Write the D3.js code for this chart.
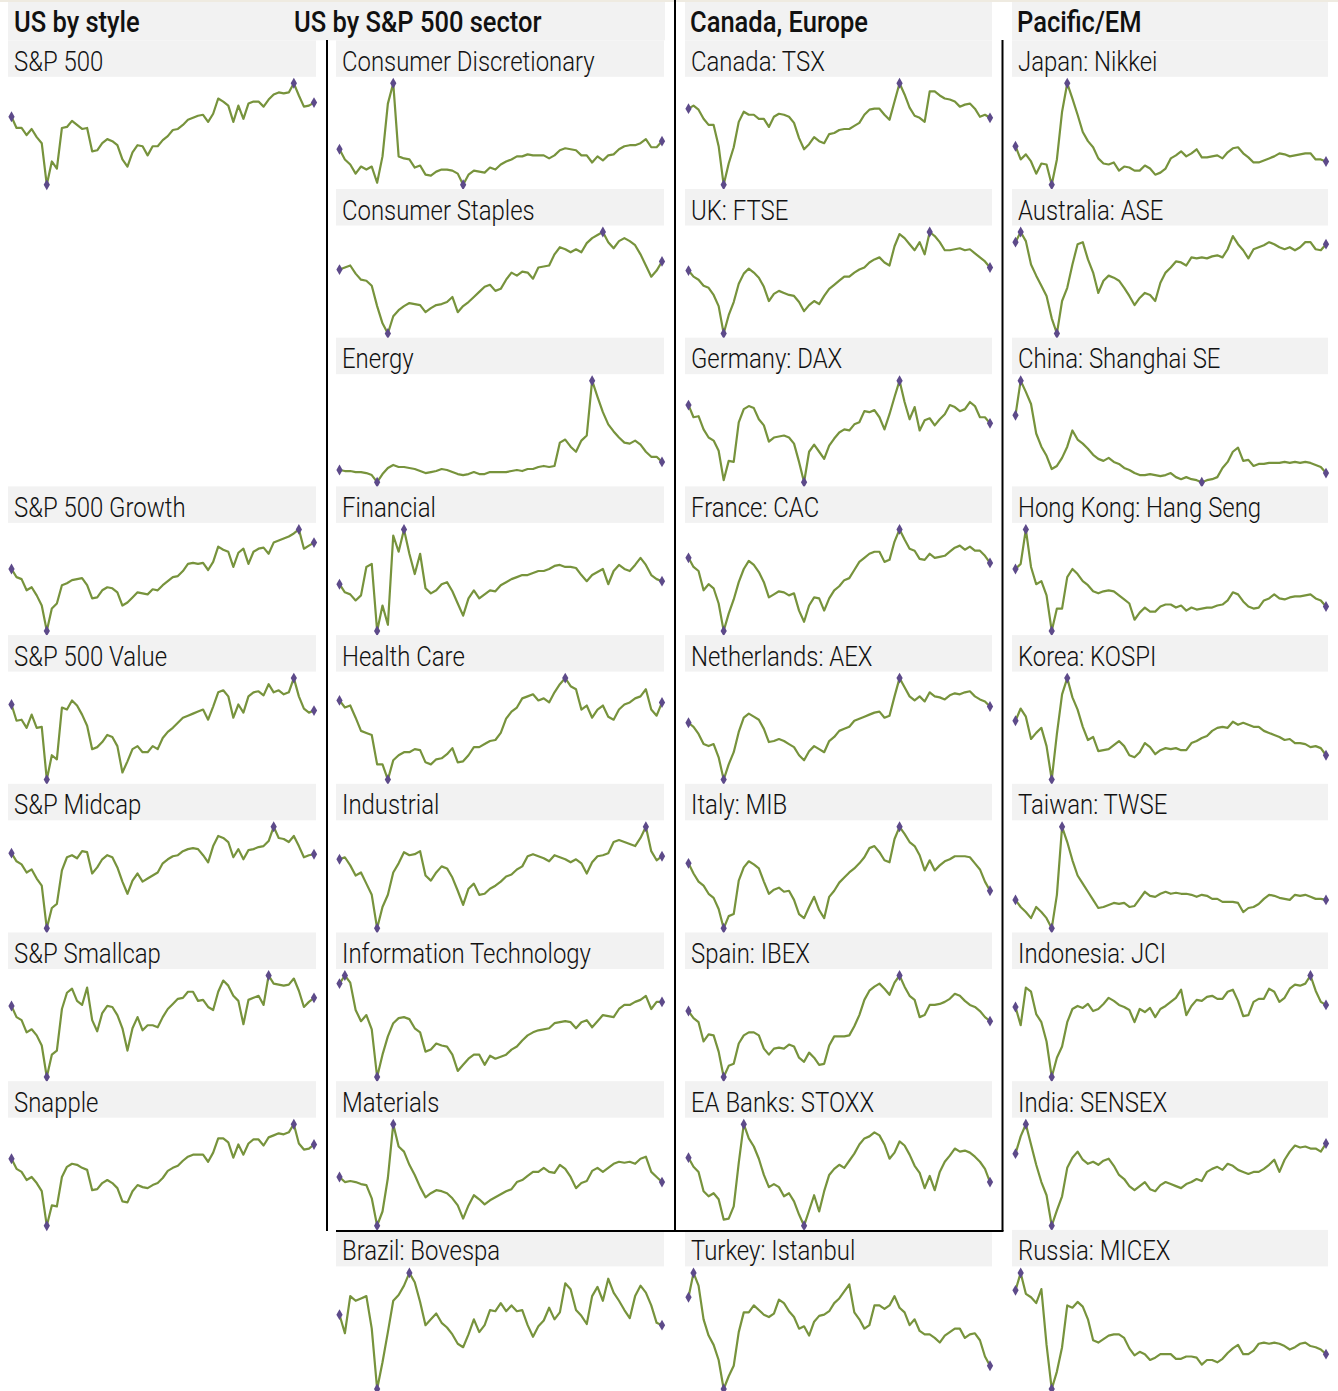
<!DOCTYPE html>
<html><head><meta charset="utf-8">
<script src="https://cdn.jsdelivr.net/npm/d3@7"></script>
<style>
html,body{margin:0;padding:0;background:#fff;}
svg{display:block;}
text{font-family:Roboto,"Liberation Sans Narrow","DejaVu Sans Condensed",sans-serif;fill:#111;}
</style></head><body>
<svg id="chart" width="1338" height="1391"></svg>
<script>
// ---------- DATA (index levels; 61 periods each) ----------
const groupTitles = ["US by style", "US by S&P 500 sector", "Canada, Europe", "Pacific/EM"];

const usStyleNames = ["S&P 500", "S&P 500 Growth", "S&P 500 Value", "S&P Midcap", "S&P Smallcap", "Snapple"];
const sectorNames = ["Consumer Discretionary", "Consumer Staples", "Energy", "Financial", "Health Care", "Industrial", "Information Technology", "Materials", "Brazil: Bovespa"];
const europeNames = ["Canada: TSX", "UK: FTSE", "Germany: DAX", "France: CAC", "Netherlands: AEX", "Italy: MIB", "Spain: IBEX", "EA Banks: STOXX", "Turkey: Istanbul"];
const pacificNames = ["Japan: Nikkei", "Australia: ASE", "China: Shanghai SE", "Hong Kong: Hang Seng", "Korea: KOSPI", "Taiwan: TWSE", "Indonesia: JCI", "India: SENSEX", "Russia: MICEX"];

// US by style
const spx = [67,56,56,49,55,47,41,0,23,16,56,57,63,59,55,56,33,34,41,45,43,39,25,18,32,39,38,29,38,38,44,48,54,55,59,64,66,68,69,62,70,85,82,78,62,78,65,80,82,82,77,84,89,91,90,91,100,88,77,78,81];
const spxGrowth = [61,53,51,40,43,35,25,0,22,27,45,47,50,51,52,45,32,33,40,43,42,38,25,28,33,38,37,36,41,40,45,49,53,54,59,66,67,66,67,60,68,83,80,78,63,77,81,66,78,81,82,76,87,89,91,93,96,100,81,84,87];
const spxValue = [74,58,59,51,64,51,52,0,24,20,71,69,78,73,64,53,30,32,37,44,42,33,7,18,30,33,27,27,33,30,41,47,51,56,61,63,65,67,69,59,72,86,88,82,61,74,66,82,86,87,83,94,86,88,84,86,100,82,70,66,68];
const spxMid = [74,66,63,55,58,49,42,0,20,24,57,70,72,69,76,75,54,60,68,72,70,60,46,34,47,54,46,49,52,55,64,68,71,72,76,78,79,78,72,65,81,91,89,85,70,78,68,77,78,80,81,86,100,89,88,85,91,81,70,72,73];
const spxSmall = [70,59,56,44,47,41,31,0,22,26,67,83,87,75,71,88,56,45,63,70,69,61,48,26,48,59,46,51,51,49,59,67,72,77,78,84,84,75,76,69,66,84,95,90,80,75,52,76,78,80,71,100,92,91,90,91,97,85,69,74,78];
const snapple = [66,56,53,45,48,42,34,0,20,19,48,58,61,60,57,55,35,36,42,45,42,37,24,23,34,40,38,37,40,42,47,54,57,59,64,68,70,70,70,63,72,86,86,82,67,80,70,81,85,85,79,87,89,91,90,92,100,81,75,76,80];

// US by S&P 500 sector (+ Brazil)
const consDisc = [35,25,20,11,18,15,18,2,28,80,100,28,26,25,17,19,10,9,13,15,15,14,11,0,10,14,13,12,17,15,20,23,25,28,28,30,29,29,29,26,29,34,36,35,34,29,29,22,28,24,29,30,35,38,39,39,41,45,37,37,43];
const consStap = [63,65,67,59,53,52,47,27,10,0,17,23,27,30,29,28,21,25,28,29,31,36,21,27,31,36,41,46,48,42,44,53,60,57,61,60,54,65,66,67,78,85,83,80,83,80,89,94,97,100,90,84,91,94,91,87,78,67,56,62,71];
const energy = [12,11,11,10,10,9,7,0,8,14,17,15,15,14,13,11,9,10,11,13,12,10,8,7,8,10,8,8,10,10,10,10,11,12,11,13,13,15,16,15,16,39,42,35,30,41,46,100,84,69,57,50,44,39,38,41,37,30,25,25,20];
const financial = [46,38,36,30,35,63,66,0,25,6,94,78,100,76,56,76,42,37,40,46,48,39,27,15,32,40,32,36,40,39,45,48,51,53,55,55,57,59,59,61,64,65,63,63,62,55,49,55,58,61,46,59,65,61,59,65,72,65,55,51,49];
const healthCare = [78,71,73,61,48,46,44,15,15,0,19,24,27,27,30,29,17,15,20,21,25,31,17,18,24,32,32,35,38,39,46,60,67,71,80,82,84,78,80,76,86,94,100,92,89,69,73,61,69,73,62,59,69,74,76,80,82,89,69,63,76];
const industrial = [68,70,62,52,55,44,33,0,21,33,55,64,75,72,73,76,52,47,55,61,59,50,37,23,39,44,33,34,39,42,46,51,53,58,61,71,73,71,69,66,72,70,68,65,68,64,54,65,71,72,74,85,87,85,83,81,89,100,76,67,71];
const infoTech = [92,100,93,66,55,61,47,0,22,40,53,58,59,57,48,44,25,27,33,31,30,22,6,12,18,22,22,12,21,18,20,22,27,30,36,41,44,46,47,48,53,54,55,54,48,54,56,49,55,61,60,59,67,71,71,74,76,80,67,74,74];
const materials = [48,43,44,43,41,40,27,0,14,47,100,78,73,60,50,38,28,32,35,34,32,27,20,7,20,30,26,21,25,28,31,34,36,43,45,49,53,53,57,53,52,60,56,48,37,42,44,54,57,53,57,61,63,62,63,61,66,68,53,48,43];
const bovespa = [64,48,80,76,78,80,52,0,23,49,76,81,89,100,92,75,55,60,65,57,53,47,39,36,47,60,49,55,68,67,74,67,72,67,68,55,45,54,59,70,60,66,91,86,68,63,56,80,88,76,95,83,76,68,61,80,89,83,72,57,55];

// Canada, Europe (+ Turkey)
const tsx = [75,78,74,65,59,59,38,0,21,37,62,72,69,69,65,65,57,67,70,69,67,61,46,35,40,47,43,41,50,51,54,55,55,58,61,69,74,75,75,69,64,82,100,89,76,68,66,62,92,92,88,85,84,82,77,79,80,75,67,69,66];
const ftse = [62,56,53,47,45,38,27,0,18,31,49,59,64,60,55,46,32,39,42,40,38,37,31,22,28,32,29,37,44,48,52,56,56,60,63,65,70,73,75,70,67,86,98,94,88,82,90,78,100,96,90,82,82,83,84,82,83,79,75,71,65];
const dax = [76,64,65,52,44,41,31,2,21,20,59,72,75,73,62,56,40,44,45,46,44,38,20,0,30,37,30,23,36,43,49,52,51,57,59,70,69,71,64,52,67,84,100,79,62,74,51,61,63,56,62,67,76,74,70,72,79,75,64,64,58];
const cac = [72,63,59,40,46,42,27,0,17,31,48,61,69,65,58,48,33,36,39,38,35,37,20,9,25,33,32,20,32,40,44,50,52,60,68,72,76,78,78,68,70,88,100,90,81,79,71,70,76,72,73,74,78,82,84,80,83,79,79,74,67];
const aex = [56,52,45,35,33,35,22,0,15,27,47,61,65,62,59,50,37,38,40,38,35,32,24,19,28,33,30,27,38,42,48,50,52,58,60,62,64,66,67,61,63,82,100,91,82,78,82,77,86,82,81,79,83,85,84,86,87,82,79,77,72];
const mib = [64,54,46,42,34,30,19,0,12,14,47,60,66,63,59,46,34,38,40,36,37,28,14,10,21,31,18,10,31,37,45,50,55,59,64,70,79,81,75,67,65,88,100,93,85,81,72,57,67,57,62,66,68,71,71,71,70,64,58,46,37];
const ibex = [65,58,54,35,42,41,25,0,11,13,33,41,44,44,41,28,22,28,29,28,32,30,19,15,24,19,12,13,31,40,40,40,41,50,61,76,85,89,92,87,81,93,100,89,80,76,59,61,71,71,72,74,77,82,80,75,71,69,65,59,55];
const stoxxBanks = [67,58,53,34,29,32,26,6,7,19,62,100,86,78,66,50,38,41,38,29,32,24,11,0,15,30,14,34,50,56,60,57,64,71,80,86,88,92,89,80,66,72,83,79,70,59,52,37,49,35,53,63,69,76,73,74,72,68,63,56,43];
const istanbul = [79,100,89,60,46,38,25,0,11,20,49,66,66,72,68,64,62,65,77,74,67,62,52,54,46,58,63,64,67,74,78,84,90,66,60,52,55,72,72,69,72,80,70,66,55,60,50,47,47,44,40,46,49,52,52,44,47,48,42,28,20];

// Pacific / EM (+ Russia)
const nikkei = [38,25,30,23,11,21,20,0,25,72,100,85,69,52,43,37,26,21,20,22,14,18,17,14,14,19,16,10,12,16,26,29,33,28,31,35,27,27,28,29,26,32,36,37,31,27,22,22,24,26,28,31,30,28,29,30,31,31,25,25,23];
const asx = [90,100,91,68,57,47,37,15,0,32,45,68,88,90,73,60,40,52,57,55,52,45,37,28,35,40,38,32,50,60,65,71,70,67,75,74,75,74,76,77,75,83,96,88,82,74,83,85,87,90,88,85,83,85,82,85,90,90,83,82,88];
const shanghai = [66,100,89,77,48,35,26,13,16,24,35,51,42,38,33,27,23,21,24,20,18,14,12,9,7,7,8,7,6,7,9,5,3,5,3,2,0,2,3,5,14,20,30,34,21,22,16,18,18,19,19,19,20,19,20,19,20,19,17,15,9];
const hangSeng = [61,66,100,63,46,49,35,0,22,22,53,61,56,49,45,39,37,39,40,39,35,31,27,11,18,23,19,19,24,26,26,23,25,20,23,21,22,23,23,25,26,30,38,36,29,24,22,23,30,32,36,32,31,33,34,34,35,36,32,30,24];
const kospi = [58,70,62,40,46,51,33,0,45,84,100,81,69,52,39,42,28,29,30,34,38,33,24,22,27,36,32,25,29,31,30,31,29,29,36,38,41,43,48,51,52,51,57,54,56,54,52,52,48,46,44,42,39,40,36,36,35,32,33,31,24];
const twse = [28,21,16,10,21,16,10,0,33,100,85,67,52,44,36,28,20,21,23,25,24,25,21,22,29,36,32,31,34,36,34,35,34,34,33,31,33,32,29,29,26,26,26,25,16,20,21,24,29,33,32,30,29,28,33,32,33,31,29,29,28];
const jci = [69,51,88,84,62,54,35,0,19,30,54,67,70,68,72,65,67,72,78,75,71,69,66,54,67,64,68,59,67,70,74,78,86,61,70,76,75,79,80,77,77,84,86,75,60,61,74,77,77,87,84,74,78,87,91,90,92,100,85,74,71];
const sensex = [71,88,100,80,60,43,30,0,15,29,57,67,73,65,61,63,60,64,66,59,50,46,39,35,39,43,36,34,40,43,41,39,37,41,43,46,44,53,56,58,55,61,59,55,53,51,53,53,56,60,65,53,65,73,79,77,78,76,76,73,81];
const micex = [85,100,82,79,74,86,38,0,15,36,72,70,75,71,60,42,40,43,46,47,47,44,35,29,32,30,25,27,30,30,30,26,26,28,28,27,21,25,25,23,26,31,35,38,30,30,33,39,40,39,40,39,37,34,36,39,40,37,36,34,30];

// ---------- LAYOUT ----------
const svg = d3.select("#chart");
const lineColor = "#77933c", dotColor = "#5d4a8a", headBg = "#f2f2f2";
const colX = [[8, 316], [336, 664], [685, 992], [1012, 1328]];
const headTop0 = 40.3, rowPitch = 148.7, headH = 36.5;
const headTop = r => headTop0 + r * rowPitch;
const titleSqueeze = 0.88, panelSqueeze = 0.855;

// top strip
svg.append("rect").attr("x", 0).attr("y", 0).attr("width", 1338).attr("height", 2).attr("fill", "#efebe1");

// group title bands
const bands = [[8, 665], [685, 992], [1012, 1328]];
bands.forEach(b => svg.append("rect").attr("x", b[0]).attr("y", 2).attr("width", b[1] - b[0]).attr("height", headTop0 - 2).attr("fill", headBg));
const groupTitleX = [14, 294, 690, 1017];
groupTitles.forEach((t, i) => svg.append("text")
  .attr("transform", `translate(${groupTitleX[i]},32) scale(${titleSqueeze},1)`)
  .attr("font-size", 29).attr("font-weight", 500).text(t));

// panels
const panels = [];
const styleSeries = [spx, spxGrowth, spxValue, spxMid, spxSmall, snapple];
const styleRows = [0, 3, 4, 5, 6, 7];
usStyleNames.forEach((n, i) => panels.push({name: n, data: styleSeries[i], col: 0, row: styleRows[i]}));
[consDisc, consStap, energy, financial, healthCare, industrial, infoTech, materials, bovespa]
  .forEach((d, i) => panels.push({name: sectorNames[i], data: d, col: 1, row: i}));
[tsx, ftse, dax, cac, aex, mib, ibex, stoxxBanks, istanbul]
  .forEach((d, i) => panels.push({name: europeNames[i], data: d, col: 2, row: i}));
[nikkei, asx, shanghai, hangSeng, kospi, twse, jci, sensex, micex]
  .forEach((d, i) => panels.push({name: pacificNames[i], data: d, col: 3, row: i}));

const diamond = d3.symbol().type(d3.symbolDiamond).size(34);

panels.forEach(p => {
  const [x0, x1] = colX[p.col];
  const ht = headTop(p.row);
  const g = svg.append("g");
  g.append("rect").attr("x", x0).attr("y", ht).attr("width", x1 - x0).attr("height", headH).attr("fill", headBg);
  g.append("text").attr("transform", `translate(${x0 + 6},${ht + 30.5}) scale(${panelSqueeze},1)`)
    .attr("font-size", 28).attr("font-weight", 300).text(p.name);

  const top = ht + 43;
  const bottom = p.row === 8 ? 1389 : ht + 144.5;
  const x = d3.scaleLinear().domain([0, p.data.length - 1]).range([x0 + 3.5, x1 - 2]);
  const y = d3.scaleLinear().domain(d3.extent(p.data)).range([bottom, top]);
  const line = d3.line().x((d, i) => x(i)).y(d => y(d));
  g.append("path").datum(p.data).attr("d", line).attr("fill", "none")
    .attr("stroke", lineColor).attr("stroke-width", 2.2).attr("stroke-linejoin", "round");

  const n = p.data.length;
  const iMin = d3.minIndex(p.data), iMax = d3.maxIndex(p.data);
  const marks = Array.from(new Set([0, n - 1, iMin, iMax]));
  g.selectAll("path.dot").data(marks).join("path").attr("class", "dot")
    .attr("d", diamond).attr("fill", dotColor)
    .attr("transform", i => `translate(${x(i)},${y(p.data[i])})`);
});

// frame lines
const frame = [
  [327, 40, 327, 1231],
  [675, 0, 675, 1231],
  [1002.5, 40, 1002.5, 1231],
  [336, 1231, 1003.5, 1231]
];
frame.forEach(f => svg.append("line").attr("x1", f[0]).attr("y1", f[1]).attr("x2", f[2]).attr("y2", f[3])
  .attr("stroke", "#000").attr("stroke-width", 2));
</script>
</body></html>
